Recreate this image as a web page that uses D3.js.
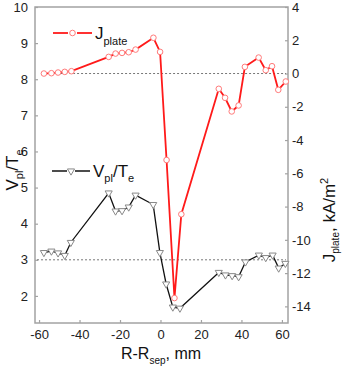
<!DOCTYPE html>
<html lang="en">
<head>
    <meta charset="UTF-8">
    <title>Vpl/Te and Jplate</title>
    <script src="https://d3js.org/d3.v7.min.js"></script>
    <style>
        body { margin: 0; background: #fff; }
        text { font-family: "Liberation Sans", Arial, sans-serif; }
    </style>
</head>
<body>
<div id="my_dataviz"></div>
<script>

    // R - Rsep positions, mm
    var jX = [-57.6, -53.9, -50.6, -47.3, -44.0, -25.6, -22.2, -19.0, -15.7, -12.3, -3.5, -0.2,
              3.0, 6.9, 10.3, 28.8, 31.9, 35.2, 38.6, 41.7, 48.5, 52.0, 55.1, 58.2, 61.9];
    // J plate, kA/m^2 (right axis)
    var jVal = [0.0, 0.02, 0.06, 0.1, 0.14, 1.0, 1.2, 1.24, 1.28, 1.44, 2.15, 1.3,
                -5.2, -13.5, -8.46, -0.92, -1.46, -2.28, -1.92, 0.4, 0.96, 0.2, 0.44, -0.98, -0.48];

    var vX = [-57.6, -53.9, -50.6, -47.3, -44.3, -25.6, -22.2, -19.0, -15.7, -12.3, -3.6, -0.3,
              2.8, 6.1, 9.6, 28.8, 32.1, 35.4, 38.6, 42.0, 48.6, 52.0, 55.4, 58.4, 61.7];
    // Vpl/Te (left axis)
    var vVal = [3.2, 3.24, 3.19, 3.12, 3.48, 4.85, 4.35, 4.36, 4.46, 4.79, 4.53, 3.2,
                2.33, 1.69, 1.66, 2.65, 2.58, 2.56, 2.53, 2.94, 3.13, 3.06, 3.13, 2.77, 2.9];

    var xTicks = [-60, -40, -20, 0, 20, 40, 60];
    var leftTicks = [2, 3, 4, 5, 6, 7, 8, 9, 10];
    var rightTicks = [4, 2, 0, -2, -4, -6, -8, -10, -12, -14];

    var jData = jX.map(function(d, i) { return {x: d, y: jVal[i]}; });
    var vData = vX.map(function(d, i) { return {x: d, y: vVal[i]}; });

    var W = 342, H = 369;
    var mLeft = 35, mRight = 288, mTop = 7, mBottom = 323;

    var svg = d3.select("#my_dataviz")
        .append("svg")
        .attr("width", W)
        .attr("height", H);

    var x = d3.scaleLinear().domain([-62, 63]).range([mLeft, mRight]);
    var yL = d3.scaleLinear().domain([1.25, 10]).range([mBottom, mTop]);
    var yR = d3.scaleLinear().domain([-15, 4]).range([mBottom, mTop]);

    var axisColor = "#a3a3a3";
    var fmt = function(d) { return String(d); };

    // frame
    svg.append("rect")
        .attr("x", mLeft).attr("y", mTop)
        .attr("width", mRight - mLeft).attr("height", mBottom - mTop)
        .attr("fill", "none")
        .attr("stroke", axisColor)
        .attr("stroke-width", 1.5);

    function styleAxis(g) {
        g.select(".domain").remove();
        g.selectAll(".tick line").attr("stroke", axisColor).attr("stroke-width", 1.2);
        g.selectAll(".tick text")
            .attr("fill", "#222")
            .style("font-size", "13px");
    }

    // bottom axis, ticks inside
    svg.append("g")
        .attr("transform", "translate(0," + mBottom + ")")
        .call(d3.axisBottom(x).tickValues(xTicks).tickFormat(fmt).tickSize(-3).tickPadding(7))
        .call(styleAxis);

    // left axis
    svg.append("g")
        .attr("transform", "translate(" + mLeft + ",0)")
        .call(d3.axisLeft(yL).tickValues(leftTicks).tickFormat(fmt).tickSize(-3).tickPadding(7))
        .call(styleAxis);

    // right axis
    svg.append("g")
        .attr("transform", "translate(" + mRight + ",0)")
        .call(d3.axisRight(yR).tickValues(rightTicks).tickFormat(fmt).tickSize(-3).tickPadding(4))
        .call(styleAxis);

    // dotted reference lines
    svg.append("line")
        .attr("x1", x(-59)).attr("x2", x(62))
        .attr("y1", yR(0)).attr("y2", yR(0))
        .attr("stroke", "#777").attr("stroke-width", 1).attr("stroke-dasharray", "2,2");
    svg.append("line")
        .attr("x1", x(-61)).attr("x2", x(62))
        .attr("y1", yL(3)).attr("y2", yL(3))
        .attr("stroke", "#777").attr("stroke-width", 1).attr("stroke-dasharray", "2,2");

    // V/T line
    var lineV = d3.line().x(function(d) { return x(d.x); }).y(function(d) { return yL(d.y); });
    svg.append("path")
        .datum(vData)
        .attr("d", lineV)
        .attr("fill", "none")
        .attr("stroke", "#111")
        .attr("stroke-width", 1.3);

    var tri = d3.symbol().type(d3.symbolTriangle).size(22);
    svg.selectAll(".vpt")
        .data(vData)
        .enter()
        .append("path")
        .attr("class", "vpt")
        .attr("d", tri)
        .attr("transform", function(d) { return "translate(" + x(d.x) + "," + yL(d.y) + ") rotate(180)"; })
        .attr("fill", "#fff")
        .attr("stroke", "#888")
        .attr("stroke-width", 1);

    // J line
    var lineJ = d3.line().x(function(d) { return x(d.x); }).y(function(d) { return yR(d.y); });
    svg.append("path")
        .datum(jData)
        .attr("d", lineJ)
        .attr("fill", "none")
        .attr("stroke", "#ff1a1a")
        .attr("stroke-width", 1.8);

    svg.selectAll(".jpt")
        .data(jData)
        .enter()
        .append("circle")
        .attr("class", "jpt")
        .attr("cx", function(d) { return x(d.x); })
        .attr("cy", function(d) { return yR(d.y); })
        .attr("r", 2.8)
        .attr("fill", "#fff")
        .attr("stroke", "#ff7a7a")
        .attr("stroke-width", 1);

    // legend J
    svg.append("line").attr("x1", 53).attr("x2", 68).attr("y1", 33).attr("y2", 33)
        .attr("stroke", "#ff1a1a").attr("stroke-width", 1.8);
    svg.append("line").attr("x1", 77).attr("x2", 92).attr("y1", 33).attr("y2", 33)
        .attr("stroke", "#ff1a1a").attr("stroke-width", 1.8);
    svg.append("circle").attr("cx", 72.5).attr("cy", 33).attr("r", 2.8)
        .attr("fill", "#fff").attr("stroke", "#ff7a7a");
    var lj = svg.append("text").attr("x", 95).attr("y", 39).attr("fill", "#111").style("font-size", "17px");
    lj.append("tspan").text("J");
    lj.append("tspan").attr("dy", 6).style("font-size", "11px").text("plate");

    // legend V
    svg.append("line").attr("x1", 52).attr("x2", 67).attr("y1", 171).attr("y2", 171)
        .attr("stroke", "#111").attr("stroke-width", 1.5);
    svg.append("line").attr("x1", 75).attr("x2", 90).attr("y1", 171).attr("y2", 171)
        .attr("stroke", "#111").attr("stroke-width", 1.5);
    svg.append("path").attr("d", tri)
        .attr("transform", "translate(71,171) rotate(180)")
        .attr("fill", "#fff").attr("stroke", "#888");
    var lv = svg.append("text").attr("x", 93).attr("y", 177).attr("fill", "#111").style("font-size", "17px");
    lv.append("tspan").text("V");
    lv.append("tspan").attr("dy", 5).style("font-size", "11px").text("pl");
    lv.append("tspan").attr("dy", -5).text("/T");
    lv.append("tspan").attr("dy", 5).style("font-size", "11px").text("e");

    // axis titles
    var xt = svg.append("text").attr("x", 161).attr("y", 359).attr("text-anchor", "middle")
        .attr("fill", "#111").style("font-size", "16px");
    xt.append("tspan").text("R-R");
    xt.append("tspan").attr("dy", 5).style("font-size", "10px").text("sep");
    xt.append("tspan").attr("dy", -5).text(", mm");

    var ylt = svg.append("text").attr("transform", "translate(18,170) rotate(-90)")
        .attr("text-anchor", "middle").attr("fill", "#111").style("font-size", "17px");
    ylt.append("tspan").text("V");
    ylt.append("tspan").attr("dy", 5).style("font-size", "11px").text("pl");
    ylt.append("tspan").attr("dy", -5).text("/T");
    ylt.append("tspan").attr("dy", 5).style("font-size", "11px").text("e");

    var yrt = svg.append("text").attr("transform", "translate(335,220) rotate(-90)")
        .attr("text-anchor", "middle").attr("fill", "#111").style("font-size", "17px");
    yrt.append("tspan").text("J");
    yrt.append("tspan").attr("dy", 4).style("font-size", "10px").text("plate");
    yrt.append("tspan").attr("dy", -4).text(", kA/m");
    yrt.append("tspan").attr("dy", -7).style("font-size", "11px").text("2");

</script>
</body>
</html>
